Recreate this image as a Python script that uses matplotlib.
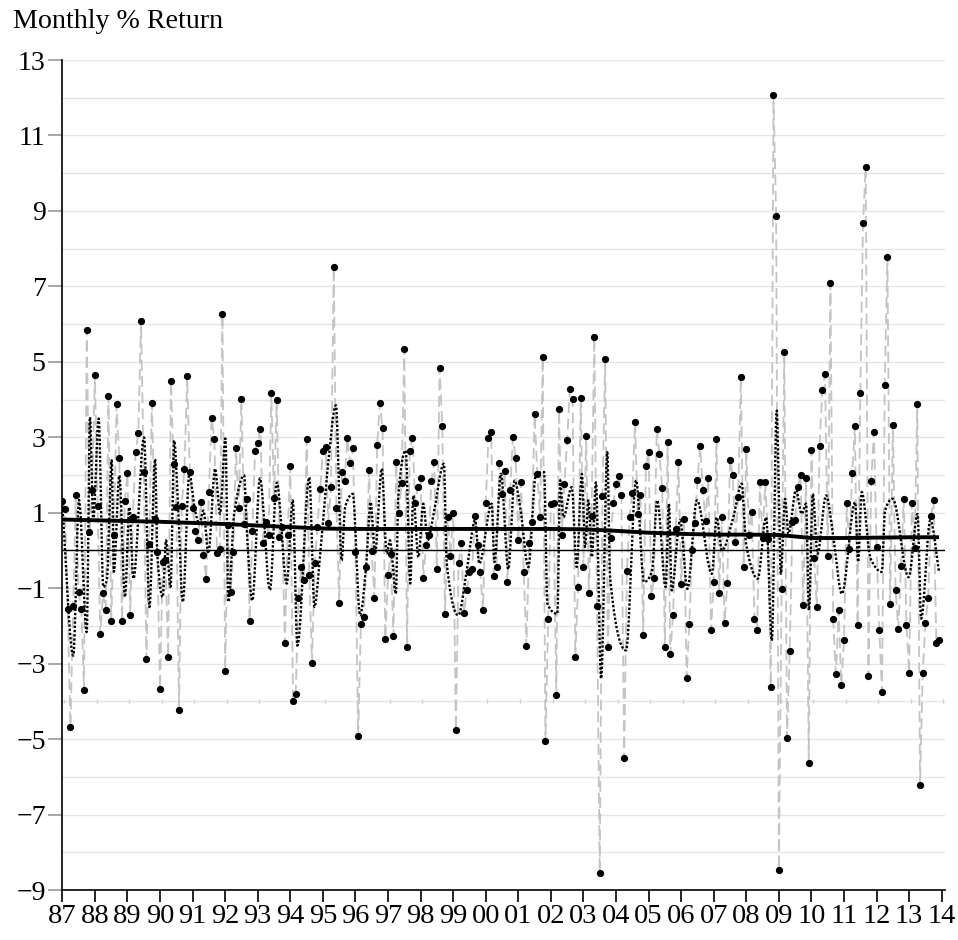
import numpy as np
import matplotlib
matplotlib.use("Agg")
import matplotlib.pyplot as plt

# ---------------- data ----------------
year_labels = ['87', '88', '89', '90', '91', '92', '93', '94', '95', '96', '97', '98', '99',
               '00', '01', '02', '03', '04', '05', '06', '07', '08', '09', '10', '11', '12',
               '13', '14']

# monthly % returns, Jan 1987 .. Dec 2013 (dots)
returns = [
    1.32, 1.10, -1.56, -4.67, -1.47, 1.46, -1.09, -1.54, -3.70, 5.85, 0.48, 1.61,
    4.66, 1.18, -2.22, -1.13, -1.57, 4.09, -1.88, 0.42, 3.87, 2.46, -1.86, 1.30,
    2.05, -1.70, 0.89, 2.61, 3.12, 6.08, 2.08, -2.89, 0.17, 3.90, 0.84, -0.03,
    -3.67, -0.31, -0.25, -2.82, 4.49, 2.29, 1.16, -4.24, 1.18, 2.17, 4.62, 2.07,
    1.12, 0.51, 0.28, 1.29, -0.13, -0.75, 1.54, 3.50, 2.96, -0.06, 0.04, 6.27,
    -3.19, 0.68, -1.09, -0.03, 2.71, 1.13, 4.02, 0.71, 1.36, -1.87, 0.51, 2.63,
    2.86, 3.22, 0.20, 0.76, 0.40, 4.18, 1.39, 3.99, 0.35, 0.62, -2.46, 0.42,
    2.24, -3.98, -3.81, -1.26, -0.45, -0.79, 2.95, -0.65, -2.97, -0.34, 0.62, 1.63,
    2.63, 2.75, 0.74, 1.67, 7.52, 1.13, -1.39, 2.07, 1.83, 2.97, 2.32, 2.71,
    -0.03, -4.92, -1.95, -1.76, -0.44, 2.14, -0.01, -1.27, 2.80, 3.90, 3.24, -2.35,
    -0.65, -0.10, -2.28, 2.35, 0.99, 1.80, 5.35, -2.55, 2.63, 2.99, 1.27, 1.67,
    1.91, -0.74, 0.14, 0.42, 1.84, 2.35, -0.50, 4.83, 3.30, -1.69, 0.89, -0.14,
    0.98, -4.75, -0.34, 0.20, -1.67, -1.05, -0.58, -0.48, 0.92, 0.14, -0.58, -1.59,
    1.26, 2.97, 3.14, -0.67, -0.45, 2.31, 1.50, 2.10, -0.84, 1.59, 3.00, 2.45,
    0.28, 1.81, -0.58, -2.54, 0.21, 0.76, 3.61, 2.03, 0.89, 5.13, -5.06, -1.81,
    1.22, 1.25, -3.84, 3.74, 0.41, 1.77, 2.93, 4.29, 4.02, -2.83, -0.96, 4.05,
    -0.44, 3.03, -1.12, 0.91, 5.67, -1.47, -8.56, 1.44, 5.07, -2.56, 0.33, 1.25,
    1.76, 1.98, 1.46, -5.51, -0.55, 0.89, 1.53, 3.40, 0.96, 1.47, -2.25, 2.24,
    2.61, -1.22, -0.74, 3.23, 2.56, 1.66, -2.56, 2.88, -2.75, -1.71, 0.58, 2.35,
    -0.89, 0.84, -3.37, -1.94, 0.00, 0.72, 1.86, 2.76, 1.60, 0.79, 1.93, -2.12,
    -0.84, 2.95, -1.12, 0.89, -1.91, -0.86, 2.41, 2.00, 0.23, 1.42, 4.60, -0.45,
    2.69, 0.40, 1.03, -1.81, -2.12, 1.81, 0.33, 1.81, 0.30, -3.61, 12.07, 8.87,
    -8.46, -1.01, 5.27, -4.97, -2.66, 0.76, 0.82, 1.69, 2.00, -1.44, 1.93, -5.64,
    2.66, -0.20, -1.50, 2.78, 4.24, 4.67, -0.16, 7.08, -1.81, -3.27, -1.59, -3.57,
    -2.37, 1.25, 0.04, 2.05, 3.29, -1.98, 4.18, 8.68, 10.17, -3.33, 1.83, 3.14,
    0.10, -2.10, -3.75, 4.38, 7.79, -1.43, 3.33, -1.05, -2.08, -0.41, 1.36, -1.97,
    -3.26, 1.27, 0.06, 3.88, -6.22, -3.24, -1.91, -1.26, 0.91, 1.33, -2.46, -2.37,
]

# dotted smooth series: turning points (month index, value)
dotted_month = [
    0, 4.05, 6.15, 9.0, 10.2, 11.4, 13.4, 15.1, 16.4, 18.2, 19.0, 21.0, 23.1, 24.7, 26.2,
    30.1, 32.1, 34.2, 35.0, 37.0, 38.2, 39.9, 41.2, 42.4, 44.4, 46.8, 48.9, 50.5, 52.0,
    53.8, 56.3, 58.1, 60.1, 61.2, 63.3, 67.0, 67.9, 70.0, 72.8, 76.5, 79.0, 82.7, 84.9, 86.6,
    91.0, 92.9, 95.0, 98.0, 100.8, 102.9, 104.2, 107.0, 109.7, 111.9, 113.6, 115.2, 117.7,
    119.5, 120.7, 122.9, 123.8, 126.5, 128.2, 129.3, 131.2, 133.0, 134.6, 136.7, 140.6,
    141.6, 145.9, 149.0, 152.1, 153.6, 158.2, 159.2, 161.6, 164.3, 166.6, 168.6, 171.7,
    174.5, 177.5, 178.7, 182.4, 183.4, 184.6, 187.7, 189.5, 191.4, 192.6, 193.8, 195.1,
    196.6, 198.5, 200.8, 201.8, 207.7, 211.4, 214.3, 217.2, 219.2, 222.3, 223.5, 224.5,
    227.6, 230.3, 233.8, 239.3, 241.1, 243.0, 247.2, 250.3, 251.9, 256.2, 259.3, 261.4,
    263.2, 264.7, 266.3, 267.5, 270.3, 272.4, 274.0, 275.1, 276.5, 278.2, 281.4, 284.0,
    287.2, 292.1, 293.2, 294.5, 297.8, 301.9, 303.1, 305.9, 311.8, 315.1, 316.4, 319.8,
    323.0,
]
dotted_value = [
    1.19, -2.79, 1.34, -2.17, 3.54, 0.80, 3.50, -0.97, -0.80, 2.39, -0.57, 1.99, -1.24, 1.15, -0.75,
    3.00, -1.50, 2.43, -0.09, -1.24, 0.27, -0.97, 2.92, 1.60, -1.37, 2.03, 1.06, 0.70, 1.06,
    -0.08, 2.17, 0.97, 2.97, -1.37, 0.97, 1.99, 0.62, -1.33, 1.91, -1.05, 1.80, -0.88, 1.33, -2.52,
    1.94, -1.50, -0.08, 2.34, 3.85, -0.27, 1.15, 1.50, -1.72, -0.44, 1.28, -0.08, 2.17,
    -0.08, 0.27, -1.15, 1.46, 2.65, -0.88, 1.46, -0.18, 1.24, 0.27, 0.93, 2.30,
    -0.31, -1.72, -0.53, 0.80, -0.35, 1.24, -0.31, 2.03, -0.50, 1.85, 1.20, -0.44,
    2.03, 2.08, -1.41, -1.68, 1.86, 0.88, 1.68, -0.44, 2.03, 0.09, 1.33, -0.18,
    1.81, -3.40, 2.61, -0.71, -2.65, 1.86, -0.84, -0.57, 1.33, -0.97, 1.24, -1.06,
    0.80, -1.02, 1.33, -0.62, 0.88, 0.00, 0.88, 1.77, 0.18, -0.75, 0.88, -2.39,
    3.71, -0.62, 1.37, 0.44, 1.60, 0.97, 1.24, -1.59, 1.50, -0.09, 1.46, 0.40,
    -1.15, 1.28, -0.31, 1.55, -0.22, -0.57, 1.06, 1.37, -0.71, 0.97, -1.81, 0.80,
    -0.57,
]

# thick trend line, value at the start of each year (87 .. 14)
trend_value = [0.82, 0.80, 0.78, 0.76, 0.73, 0.70, 0.66, 0.62, 0.58, 0.57, 0.57, 0.57, 0.57,
               0.57, 0.57, 0.57, 0.56, 0.52, 0.47, 0.44, 0.42, 0.42, 0.41, 0.33, 0.33, 0.34,
               0.35, 0.35]


def pchip(x, y, xn):
    x = np.asarray(x, float)
    y = np.asarray(y, float)
    h = np.diff(x)
    d = np.diff(y) / h
    m = np.zeros_like(y)
    for k in range(1, len(y) - 1):
        if d[k - 1] * d[k] > 0:
            w1 = 2 * h[k] + h[k - 1]
            w2 = h[k] + 2 * h[k - 1]
            m[k] = (w1 + w2) / (w1 / d[k - 1] + w2 / d[k])
    m[0] = d[0]
    m[-1] = d[-1]
    idx = np.clip(np.searchsorted(x, xn, side='right') - 1, 0, len(h) - 1)
    t = (xn - x[idx]) / h[idx]
    h00 = 2 * t**3 - 3 * t**2 + 1
    h10 = t**3 - 2 * t**2 + t
    h01 = -2 * t**3 + 3 * t**2
    h11 = t**3 - t**2
    return h00 * y[idx] + h10 * h[idx] * m[idx] + h01 * y[idx + 1] + h11 * h[idx] * m[idx + 1]


plt.rcParams['font.family'] = ['Liberation Serif', 'DejaVu Serif']

W, H = 958, 940
fig = plt.figure(figsize=(W / 100, H / 100), dpi=100)
ax = fig.add_axes([62.3 / W, (H - 890) / H, (945 - 62.3) / W, 830 / H])

n = len(returns)
months = np.arange(n)

# gridlines
for g in range(-8, 14):
    ax.axhline(g, color='#e6e6e6', lw=1.0, zorder=0)

# small gray marks at -4 for each year
ax.plot(np.arange(0, 325, 12) + 0.6, [-4] * 28, linestyle='none', marker='|',
        color='#cfcfcf', markersize=3, mew=1, zorder=1)

# gray dashed connecting line
ax.plot(months, returns, color='#c4c4c4', lw=1.3, dashes=(6, 3), zorder=2)

# dotted smooth series
xs = np.linspace(dotted_month[0], dotted_month[-1], 3000)
ax.plot(xs, pchip(dotted_month, dotted_value, xs), color='black', lw=1.7,
        linestyle=(0, (1.0, 0.8)), zorder=3)

# zero line
ax.axhline(0, color='black', lw=1.0, zorder=3)

# trend line
trend_x = np.minimum(np.arange(len(trend_value)) * 12, n - 1)
ax.plot(trend_x, trend_value, color='black', lw=2.8, zorder=4, solid_capstyle='butt')

# dots
ax.plot(months, returns, linestyle='none', marker='o', markersize=4.2,
        color='black', zorder=5)

ax.set_xlim(0, 325.2)
ax.set_ylim(-9, 13)

yt = list(range(-9, 14, 2))
ax.set_yticks(yt)
ax.set_yticklabels([str(v).replace('-', '\u2212') for v in yt], fontsize=20)
ax.set_xticks(np.arange(0, 325, 12))
ax.set_xticklabels(year_labels, fontsize=20.5)

ax.tick_params(axis='y', direction='out', length=10, width=1.3, color='#a0a0a0', pad=2)
ax.tick_params(axis='x', direction='out', length=8.5, width=1.2, color='black', pad=1.5)

for s in ['top', 'right']:
    ax.spines[s].set_visible(False)
ax.spines['left'].set_linewidth(1.2)
ax.spines['bottom'].set_linewidth(1.2)

fig.text(13 / W, 1 - 21 / H, 'Monthly % Return', fontsize=20.2, va='center', ha='left')

fig.savefig('out.png', dpi=100)
